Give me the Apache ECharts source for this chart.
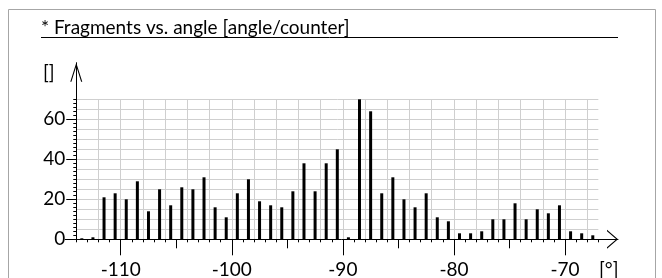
<!DOCTYPE html>
<html>
<head>
<meta charset="utf-8">
<title>Fragments vs. angle</title>
<script src="https://cdn.jsdelivr.net/npm/echarts@6/dist/echarts.min.js"></script>
<style>
html,body{margin:0;padding:0;background:#fff;}
#chart{width:662px;height:278px;}
</style>
</head>
<body>
<div id="chart"></div>
<script>
//数据：每个1°区间的中心角度
var angles = [-113.5, -112.5, -111.5, -110.5, -109.5, -108.5, -107.5, -106.5, -105.5, -104.5,
              -103.5, -102.5, -101.5, -100.5, -99.5, -98.5, -97.5, -96.5, -95.5, -94.5,
              -93.5, -92.5, -91.5, -90.5, -89.5, -88.5, -87.5, -86.5, -85.5, -84.5,
              -83.5, -82.5, -81.5, -80.5, -79.5, -78.5, -77.5, -76.5, -75.5, -74.5,
              -73.5, -72.5, -71.5, -70.5, -69.5, -68.5, -67.5];
var counts = [0.5, 1, 21, 23, 20, 29, 14, 25, 17, 26,
              25, 31, 16, 11, 23, 30, 19, 17, 16, 24,
              38, 24, 38, 45, 1, 70, 64, 23, 31, 20,
              16, 23, 11, 9, 3, 3, 4, 10, 10, 18,
              10, 15, 13, 17, 4, 3, 2];
var xLabelTicks = [-110, -100, -90, -80, -70];
var xMidTicks = [-105, -95, -85, -75];
var yLabelTicks = [0, 20, 40, 60];

var titleText = '* Fragments vs. angle [angle/counter]';
var font = 'Lato';

//像素比例
var pxPerDeg = 11.108;
var xLeft = 76.27;   // -114
var yZero = 239.3;
function xPx(v) { return xLeft + (v + 114) * pxPerDeg; }

//箭头（向上的折线形状，坐标轴会旋转）
var arrowX = 'path://M0,11 L9.5,0 L19,11 L17.55,11 L9.5,1.68 L1.45,11 Z';
var arrowY = 'path://M0,19 L6,0 L12,19 L10.85,19 L6,3.65 L1.15,19 Z';

var barData = [];
for (var i = 0; i < angles.length; i++) {
    barData.push([angles[i], counts[i]]);
}

var gridLineColor = '#cfcfcf';
var xEnd = -115 + (618 - xPx(-115)) / pxPerDeg;

var dom = document.getElementById('chart');
var myChart = echarts.init(dom, null, {renderer: 'canvas'});

var option = {
    animation: false,
    backgroundColor: '#fff',
    textStyle: {fontFamily: font, color: '#000'},
    grid: [
        //0: 柱子和水平网格
        {left: xLeft, top: yZero - 140, width: 47 * pxPerDeg, height: 140, outerBoundsMode: 'none'},
        //1: 带箭头的x轴
        {left: xPx(-115), top: yZero - 140, width: 618 - xPx(-115), height: 140, outerBoundsMode: 'none'},
        //2: 竖直网格线 (-112 ~ -68)
        {left: xPx(-112), top: yZero - 140, width: 44 * pxPerDeg, height: 140, outerBoundsMode: 'none'},
        //3: 带箭头的y轴
        {left: xLeft, top: 62.7, width: 47 * pxPerDeg, height: yZero - 62.7, outerBoundsMode: 'none'}
    ],
    xAxis: [
        {
            gridIndex: 0, type: 'value', position: 'bottom', min: -114, max: -67, interval: 1,
            axisLine: {show: false},
            axisTick: {show: true, length: 3, lineStyle: {color: '#000', width: 1}},
            axisLabel: {show: false},
            splitLine: {show: false}
        },
        {
            gridIndex: 1, type: 'value', position: 'bottom', min: -115, max: xEnd, interval: 10,
            axisLine: {
                show: true, onZero: false,
                lineStyle: {color: '#000', width: 1},
                symbol: ['none', arrowX], symbolSize: [19, 11], symbolOffset: [0, -5.5]
            },
            axisTick: {show: true, length: 16, customValues: xLabelTicks, lineStyle: {color: '#000', width: 1}},
            axisLabel: {
                show: true, customValues: xLabelTicks, margin: 21,
                fontSize: 19, fontFamily: font, color: '#000'
            },
            splitLine: {show: false}
        },
        {
            gridIndex: 1, type: 'value', position: 'bottom', min: -115, max: xEnd,
            axisLine: {show: false, onZero: false},
            axisTick: {show: true, length: 9, customValues: xMidTicks, lineStyle: {color: '#000', width: 1}},
            axisLabel: {show: false},
            splitLine: {show: false}
        },
        {
            gridIndex: 2, type: 'value', position: 'bottom', min: -112, max: -68, interval: 2,
            axisLine: {show: false}, axisTick: {show: false}, axisLabel: {show: false},
            splitLine: {show: true, lineStyle: {color: gridLineColor, width: 1}}
        },
        {gridIndex: 3, type: 'value', position: 'bottom', min: 0, max: 1, show: false}
    ],
    yAxis: [
        {
            gridIndex: 0, type: 'value', position: 'left', min: 0, max: 70, interval: 5,
            axisLine: {show: false}, axisTick: {show: false}, axisLabel: {show: false},
            splitLine: {show: true, lineStyle: {color: gridLineColor, width: 1}}
        },
        {
            gridIndex: 0, type: 'value', position: 'left', min: 0, max: 70, interval: 20,
            axisLine: {show: false},
            axisTick: {show: true, length: 10, customValues: yLabelTicks, lineStyle: {color: '#000', width: 1}},
            axisLabel: {
                show: true, customValues: yLabelTicks, margin: 11,
                fontSize: 19, fontFamily: font, color: '#000'
            },
            splitLine: {show: false}
        },
        {
            gridIndex: 0, type: 'value', position: 'left', min: 0, max: 70, interval: 2,
            axisLine: {show: false},
            axisTick: {show: true, length: 3, lineStyle: {color: '#000', width: 1}},
            axisLabel: {show: false},
            splitLine: {show: false}
        },
        {gridIndex: 1, type: 'value', position: 'left', min: 0, max: 1, show: false},
        {gridIndex: 2, type: 'value', position: 'left', min: 0, max: 1, show: false},
        {
            gridIndex: 3, type: 'value', position: 'left', min: 0, max: (yZero - 62.7) / 2,
            axisLine: {
                show: true, onZero: false,
                lineStyle: {color: '#000', width: 1},
                symbol: ['none', arrowY], symbolSize: [12, 19], symbolOffset: [0, -9.5]
            },
            axisTick: {show: false}, axisLabel: {show: false}, splitLine: {show: false}
        }
    ],
    series: [
        {
            type: 'bar',
            xAxisIndex: 0,
            yAxisIndex: 0,
            data: barData,
            barWidth: 3,
            itemStyle: {color: '#000'},
            z: 3
        }
    ],
    graphic: [
        //外框
        {
            type: 'rect', silent: true, z: 0,
            shape: {x: 8.5, y: 9.5, width: 647, height: 320},
            style: {fill: 'none', stroke: '#a6a6a6', lineWidth: 1}
        },
        //标题和下划线
        {
            type: 'text', silent: true,
            x: 41, y: 28,
            style: {text: titleText, fontSize: 19, fontFamily: font, fill: '#000', verticalAlign: 'middle'}
        },
        {
            type: 'line', silent: true,
            shape: {x1: 41, y1: 37.5, x2: 618, y2: 37.5},
            style: {stroke: '#000', lineWidth: 1}
        },
        //坐标轴单位
        {
            type: 'text', silent: true,
            x: 43, y: 73,
            style: {text: '[]', fontSize: 19, fontFamily: font, fill: '#000', verticalAlign: 'middle'}
        },
        {
            type: 'text', silent: true,
            x: 599, y: 270,
            style: {text: '[°]', fontSize: 19, fontFamily: font, fill: '#000', verticalAlign: 'middle'}
        }
    ]
};

if (option && typeof option === 'object') {
    myChart.setOption(option, true);
}
</script>
</body>
</html>
